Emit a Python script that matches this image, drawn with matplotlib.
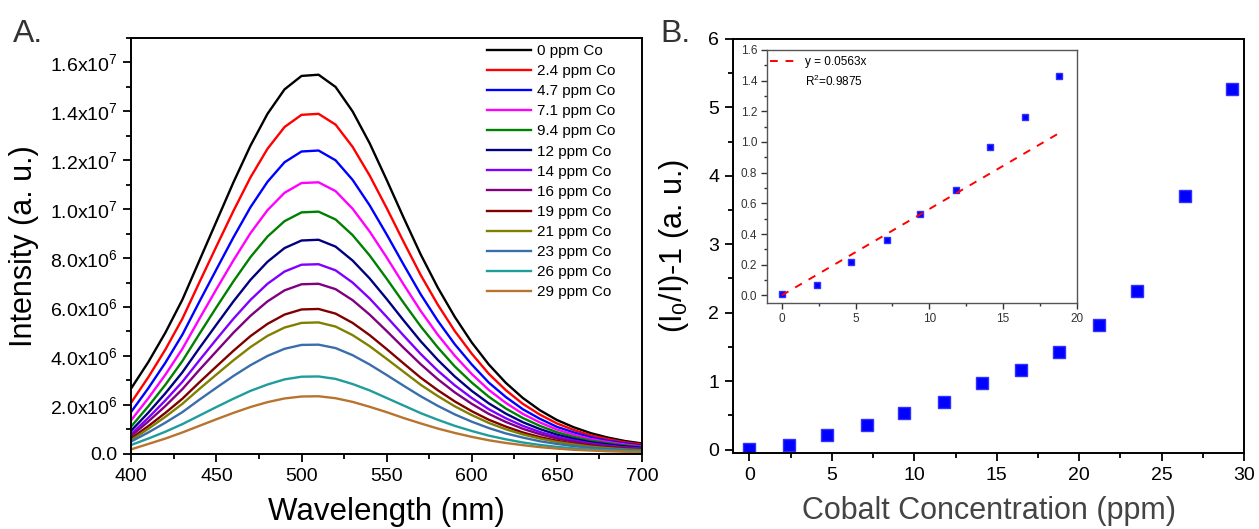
import matplotlib
matplotlib.use("Agg")
import matplotlib.pyplot as plt
import numpy as np
from matplotlib.ticker import MultipleLocator, FuncFormatter

plt.rcParams["font.family"] = ["Liberation Sans", "DejaVu Sans"]
plt.rcParams["mathtext.default"] = "regular"

# emission spectra, intensity in units of 1e6, every 10 nm from 400 to 700
wavelength = list(range(400, 701, 10))

co_0 = [2.68, 3.75, 4.95, 6.30, 7.90, 9.50, 11.10, 12.60, 13.90, 14.90, 15.45, 15.50, 15.00, 14.00, 12.70, 11.20,
        9.65, 8.15, 6.80, 5.60, 4.55, 3.65, 2.90, 2.28, 1.78, 1.38, 1.08, 0.84, 0.66, 0.52, 0.42]
co_2_4 = [2.10, 3.13, 4.26, 5.52, 7.01, 8.48, 9.93, 11.30, 12.47, 13.36, 13.86, 13.90, 13.46, 12.55, 11.38, 10.05,
          8.66, 7.31, 6.10, 5.02, 4.09, 3.27, 2.60, 2.04, 1.60, 1.24, 0.97, 0.75, 0.60, 0.47, 0.38]
co_4_7 = [1.72, 2.68, 3.72, 4.87, 6.22, 7.54, 8.85, 10.08, 11.12, 11.92, 12.36, 12.40, 12.00, 11.20, 10.16, 8.97,
          7.73, 6.52, 5.44, 4.48, 3.65, 2.91, 2.32, 1.82, 1.43, 1.10, 0.87, 0.67, 0.53, 0.42, 0.33]
co_7_1 = [1.38, 2.27, 3.23, 4.29, 5.52, 6.73, 7.91, 9.02, 9.96, 10.67, 11.07, 11.10, 10.74, 10.02, 9.09, 8.03,
          6.92, 5.84, 4.87, 4.01, 3.26, 2.61, 2.08, 1.63, 1.28, 0.99, 0.78, 0.60, 0.48, 0.38, 0.30]
co_9_4 = [1.12, 1.94, 2.82, 3.79, 4.90, 5.99, 7.05, 8.04, 8.88, 9.51, 9.87, 9.90, 9.58, 8.94, 8.11, 7.16,
          6.17, 5.21, 4.35, 3.57, 2.91, 2.33, 1.85, 1.46, 1.14, 0.88, 0.69, 0.53, 0.43, 0.34, 0.27]
co_12 = [0.95, 1.68, 2.47, 3.33, 4.32, 5.28, 6.23, 7.11, 7.85, 8.41, 8.72, 8.75, 8.47, 7.90, 7.17, 6.33,
         5.45, 4.60, 3.84, 3.16, 2.57, 2.06, 1.64, 1.29, 1.01, 0.78, 0.61, 0.47, 0.38, 0.30, 0.24]
co_14 = [0.81, 1.47, 2.18, 2.94, 3.82, 4.68, 5.52, 6.29, 6.95, 7.45, 7.73, 7.75, 7.50, 7.00, 6.35, 5.60,
         4.83, 4.08, 3.40, 2.80, 2.28, 1.82, 1.45, 1.14, 0.89, 0.69, 0.54, 0.42, 0.33, 0.26, 0.21]
co_16 = [0.73, 1.32, 1.95, 2.64, 3.43, 4.19, 4.95, 5.64, 6.23, 6.68, 6.93, 6.95, 6.73, 6.28, 5.69, 5.02,
         4.33, 3.66, 3.05, 2.51, 2.04, 1.63, 1.30, 1.02, 0.80, 0.62, 0.49, 0.38, 0.30, 0.24, 0.19]
co_19 = [0.63, 1.13, 1.67, 2.25, 2.92, 3.57, 4.21, 4.81, 5.31, 5.69, 5.90, 5.92, 5.73, 5.35, 4.85, 4.28,
         3.69, 3.11, 2.60, 2.14, 1.74, 1.39, 1.11, 0.87, 0.68, 0.53, 0.41, 0.32, 0.25, 0.20, 0.16]
co_21 = [0.56, 1.02, 1.51, 2.04, 2.65, 3.24, 3.82, 4.36, 4.82, 5.16, 5.35, 5.37, 5.20, 4.85, 4.40, 3.88,
         3.35, 2.82, 2.36, 1.94, 1.58, 1.26, 1.00, 0.79, 0.62, 0.48, 0.38, 0.29, 0.23, 0.18, 0.15]
co_23 = [0.50, 0.87, 1.27, 1.70, 2.21, 2.70, 3.18, 3.62, 4.00, 4.29, 4.45, 4.46, 4.32, 4.03, 3.65, 3.22,
         2.78, 2.35, 1.96, 1.61, 1.31, 1.05, 0.83, 0.66, 0.51, 0.40, 0.31, 0.24, 0.19, 0.15, 0.12]
co_26 = [0.36, 0.62, 0.90, 1.21, 1.56, 1.91, 2.25, 2.57, 2.83, 3.04, 3.15, 3.16, 3.06, 2.85, 2.59, 2.28,
         1.97, 1.66, 1.39, 1.14, 0.93, 0.74, 0.59, 0.46, 0.36, 0.28, 0.22, 0.17, 0.14, 0.11, 0.09]
co_29 = [0.18, 0.40, 0.62, 0.87, 1.14, 1.41, 1.67, 1.91, 2.11, 2.26, 2.34, 2.35, 2.27, 2.12, 1.92, 1.70,
         1.46, 1.24, 1.03, 0.85, 0.69, 0.55, 0.44, 0.35, 0.27, 0.21, 0.16, 0.13, 0.10, 0.08, 0.06]

spectra = [co_0, co_2_4, co_4_7, co_7_1, co_9_4, co_12, co_14, co_16, co_19, co_21, co_23, co_26, co_29]
labels = ["0 ppm Co", "2.4 ppm Co", "4.7 ppm Co", "7.1 ppm Co", "9.4 ppm Co", "12 ppm Co", "14 ppm Co",
          "16 ppm Co", "19 ppm Co", "21 ppm Co", "23 ppm Co", "26 ppm Co", "29 ppm Co"]
colors = ["#000000", "#ff0000", "#0000ff", "#ff00ff", "#008000", "#000080", "#8000ff",
          "#800080", "#800000", "#808000", "#3a6eab", "#1f9c9c", "#b8732e"]

# quenching, (I0/I)-1 vs cobalt concentration
conc = [0, 2.4, 4.7, 7.1, 9.4, 11.8, 14.1, 16.5, 18.8, 21.2, 23.5, 26.4, 29.3]
quench = [0.01, 0.07, 0.22, 0.36, 0.53, 0.69, 0.97, 1.16, 1.43, 1.82, 2.31, 3.70, 5.27]
n_fit = 9          # points in the linear range shown in the inset
slope = 0.0563
r2 = 0.9875

fig = plt.figure(figsize=(12.59, 5.29), dpi=100)

# ---- A: spectra ----
ax = fig.add_axes([0.1043, 0.1423, 0.4056, 0.7858])
for y, lab, c in zip(spectra, labels, colors):
    ax.plot(wavelength, np.array(y) * 1e6, color=c, lw=1.7, label=lab)
ax.set_xlim(400, 700)
ax.set_ylim(0, 1.7e7)
ax.xaxis.set_major_locator(MultipleLocator(50))
ax.xaxis.set_minor_locator(MultipleLocator(25))
ax.yaxis.set_major_locator(MultipleLocator(2e6))
ax.yaxis.set_minor_locator(MultipleLocator(1e6))


def sci(v, pos):
    if abs(v) < 1:
        return "0.0"
    e = int(np.floor(np.log10(abs(v)) + 1e-9))
    return "%.1fx10$^{%d}$" % (v / 10 ** e, e)


ax.yaxis.set_major_formatter(FuncFormatter(sci))
ax.tick_params(which="both", direction="out", width=1.3, labelsize=14, pad=4, top=False, right=False)
ax.tick_params(which="major", length=6)
ax.tick_params(which="minor", length=3.5)
for s in ax.spines.values():
    s.set_linewidth(1.4)
ax.set_xlabel("Wavelength (nm)", fontsize=22.5)
ax.set_ylabel("Intensity (a. u.)", fontsize=22)
ax.xaxis.set_label_coords(0.5, -0.105)
ax.yaxis.set_label_coords(-0.18, 0.5)
ax.legend(loc="upper left", bbox_to_anchor=(0.6965, 0.9856), frameon=False, fontsize=11,
          handlelength=2.9, handletextpad=0.4, labelspacing=0.4, borderpad=0, borderaxespad=0)
fig.text(0.0103, 0.965, "A.", fontsize=23, color="#333333", va="top")

# ---- B: Stern-Volmer plot ----
bx = fig.add_axes([0.5822, 0.1437, 0.4059, 0.7826])
bx.plot(conc, quench, "s", color="#0000ff", ms=8.5, mec="#3030ff")
bx.set_xlim(-1, 30)
bx.set_ylim(-0.05, 6)
bx.xaxis.set_major_locator(MultipleLocator(5))
bx.xaxis.set_minor_locator(MultipleLocator(2.5))
bx.yaxis.set_major_locator(MultipleLocator(1))
bx.yaxis.set_minor_locator(MultipleLocator(0.5))
bx.tick_params(which="both", direction="out", width=1.3, labelsize=14, pad=4, top=False, right=False)
bx.tick_params(which="major", length=6)
bx.tick_params(which="minor", length=3.5)
for s in bx.spines.values():
    s.set_linewidth(1.4)
bx.set_xlabel("Cobalt Concentration (ppm)", fontsize=22, color="#444444")
bx.set_ylabel("(I$_0$/I)-1 (a. u.)", fontsize=22)
bx.xaxis.set_label_coords(0.5, -0.105)
bx.yaxis.set_label_coords(-0.082, 0.5)
fig.text(0.5242, 0.965, "B.", fontsize=23, color="#333333", va="top")

# inset: linear range with fit
ix = fig.add_axes([0.6092, 0.4272, 0.2462, 0.4783])
ix.plot(conc[:n_fit], quench[:n_fit], "s", color="#0000ff", ms=5, mec="#3030ff")
fx = np.array([0, conc[n_fit - 1]])
ix.plot(fx, slope * fx, color="#ff0000", lw=1.4, dashes=(4, 4), label="y = %.4fx" % slope)
ix.set_xlim(-1, 20)
ix.set_ylim(-0.05, 1.6)
ix.xaxis.set_major_locator(MultipleLocator(5))
ix.xaxis.set_minor_locator(MultipleLocator(2.5))
ix.yaxis.set_major_locator(MultipleLocator(0.2))
ix.yaxis.set_minor_locator(MultipleLocator(0.1))
ix.yaxis.set_major_formatter(FuncFormatter(lambda v, p: "%.1f" % v))
ix.tick_params(which="both", direction="out", width=1.0, labelsize=8.5, pad=3, top=False, right=False,
               colors="#333333")
ix.tick_params(which="major", length=4)
ix.tick_params(which="minor", length=2.5)
for s in ix.spines.values():
    s.set_linewidth(1.0)
    s.set_color("#555555")
ix.legend(loc="upper left", bbox_to_anchor=(0.01, 0.976), frameon=False, fontsize=8.5,
          handlelength=2.1, handletextpad=0.85, borderpad=0, borderaxespad=0)
ix.text(0.1226, 0.875, "R$^2$=%.4f" % r2, transform=ix.transAxes, fontsize=8.5, va="center")

fig.savefig("out.png", dpi=100)
